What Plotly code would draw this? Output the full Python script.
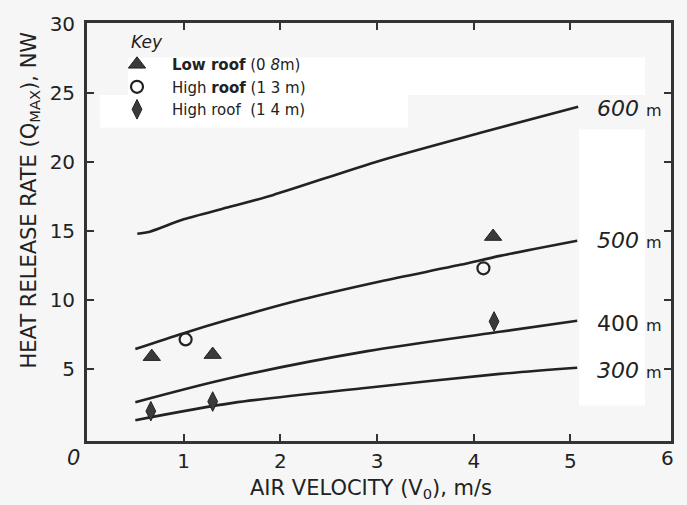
import plotly.graph_objects as go

# ---------------- data ----------------
vel_600 = [0.52, 0.65, 1.0, 1.45, 1.92, 3.03, 4.06, 5.08]
q_600 = [14.8, 14.95, 15.85, 16.7, 17.6, 20.1, 22.1, 24.0]
vel_500 = [0.5, 1.0, 1.45, 2.2, 3.03, 3.86, 4.27, 5.07]
q_500 = [6.45, 7.6, 8.55, 10.0, 11.35, 12.55, 13.2, 14.3]
vel_400 = [0.5, 1.45, 2.9, 4.27, 5.07]
q_400 = [2.6, 4.3, 6.3, 7.7, 8.5]
vel_300 = [0.5, 1.51, 2.9, 4.27, 5.07]
q_300 = [1.3, 2.55, 3.65, 4.65, 5.1]

curve_names = ["600", "500", "400", "300"]
curve_label_y = [23.9, 14.3, 8.3, 4.9]
curve_label_italic = [True, True, False, True]

low_roof_08_v = [0.67, 1.30, 4.20]
low_roof_08_q = [5.9, 6.05, 14.6]
high_roof_13_v = [1.02, 4.10]
high_roof_13_q = [7.15, 12.3]
high_roof_14_v = [0.66, 1.30, 4.21]
high_roof_14_q = [1.95, 2.65, 8.45]

series_names = ["<b>Low roof</b> (0 <i>8</i>m)", "High <b>roof</b> (1 3 m)", "High roof  (1 4 m)"]

x_ticks = [1, 2, 3, 4, 5]
y_ticks = [5, 10, 15, 20, 25, 30]

# ---------------- layout helpers ----------------
W, H = 687, 505
L, R, T, B = 87, 671, 17, 441
FONT = "DejaVu Sans, Liberation Sans, Arial"
INK = "#222222"


def px(x):
    return (x - L) / (R - L)


def py(y):
    return (B - y) / (B - T)


fig = go.Figure()

curves = [(vel_600, q_600), (vel_500, q_500), (vel_400, q_400), (vel_300, q_300)]
for (xs, ys), nm in zip(curves, curve_names):
    fig.add_trace(go.Scatter(x=xs, y=ys, mode="lines", showlegend=False,
                             line=dict(color=INK, width=2.6, shape="spline", smoothing=0.8),
                             hoverinfo="skip", name=nm + " m"))

fig.add_trace(go.Scatter(x=low_roof_08_v, y=low_roof_08_q, mode="markers", name=series_names[0],
                         marker=dict(symbol="triangle-up", size=15, color="#3a3a3a",
                                     line=dict(color="#222", width=1))))
fig.add_trace(go.Scatter(x=high_roof_13_v, y=high_roof_13_q, mode="markers", name=series_names[1],
                         marker=dict(symbol="circle-open", size=12, color="#222",
                                     line=dict(color="#222", width=2.2))))
fig.add_trace(go.Scatter(x=high_roof_14_v, y=high_roof_14_q, mode="markers", name=series_names[2],
                         marker=dict(symbol="diamond-tall", size=14, color="#3a3a3a",
                                     line=dict(color="#222", width=1))))

# white scan patches
shapes = []
for (x0, y0, x1, y1) in [(128, 52, 645, 90), (100, 90, 408, 123), (579, 125, 645, 405)]:
    shapes.append(dict(type="rect", xref="paper", yref="paper", layer="below",
                       x0=px(x0), x1=px(x1), y0=py(y1), y1=py(y0),
                       fillcolor="white", line=dict(width=0)))

annotations = []
for nm, yv, it in zip(curve_names, curve_label_y, curve_label_italic):
    num = f"<i>{nm}</i>" if it else nm
    annotations.append(dict(x=5.25, y=yv, xref="x", yref="y", xanchor="left", yanchor="middle",
                            text=num + " <span style='font-size:16px'>m</span>",
                            showarrow=False, font=dict(family=FONT, size=22, color=INK)))

# corner tick labels 0 and 6
annotations.append(dict(x=px(73), y=py(458), xref="paper", yref="paper", text="<i>0</i>",
                        xanchor="center", yanchor="middle",
                        showarrow=False, font=dict(family=FONT, size=21, color=INK)))
annotations.append(dict(x=px(667), y=py(458), xref="paper", yref="paper", text="6",
                        xanchor="center", yanchor="middle",
                        showarrow=False, font=dict(family=FONT, size=20, color=INK)))
# axis titles
annotations.append(dict(x=px(371), y=py(490), xref="paper", yref="paper",
                        xanchor="center", yanchor="middle",
                        text="AIR VELOCITY (V<sub>0</sub>), m/s",
                        showarrow=False, font=dict(family=FONT, size=21, color=INK)))
annotations.append(dict(x=px(30), y=py(197), xref="paper", yref="paper", textangle=-90,
                        xanchor="center", yanchor="middle",
                        text="HEAT RELEASE RATE (Q<sub>MAX</sub>), NW",
                        showarrow=False, font=dict(family=FONT, size=21, color=INK)))

axis_common = dict(showline=True, linewidth=2.8, linecolor="#333", mirror="ticks",
                   ticks="inside", ticklen=7, tickwidth=2, tickcolor="#333",
                   showgrid=False, zeroline=False,
                   tickfont=dict(family=FONT, size=20, color=INK))

fig.update_layout(
    width=W, height=H,
    margin=dict(l=L, r=W - R, t=T, b=H - B),
    paper_bgcolor="#f6f6f6", plot_bgcolor="#f6f6f6",
    xaxis=dict(range=[0, 6.04], tickvals=x_ticks, ticktext=[str(v) for v in x_ticks],
               ticklabelstandoff=0, **axis_common),
    yaxis=dict(range=[-0.21, 30.07], tickvals=y_ticks, ticktext=[str(v) for v in y_ticks],
               ticklabelstandoff=5, **axis_common),
    showlegend=True,
    legend=dict(x=px(102), y=py(20), xanchor="left", yanchor="top",
                bgcolor="rgba(0,0,0,0)", borderwidth=0,
                title=dict(text="\u00a0" * 5 + "<i>Key</i>", font=dict(family=FONT, size=17, color=INK)),
                font=dict(family=FONT, size=15, color=INK),
                tracegroupgap=0, itemwidth=60),
    shapes=shapes,
    annotations=annotations,
)

fig.write_html("out.html", config={"displayModeBar": False},
               post_script="document.body.style.margin='0';")
